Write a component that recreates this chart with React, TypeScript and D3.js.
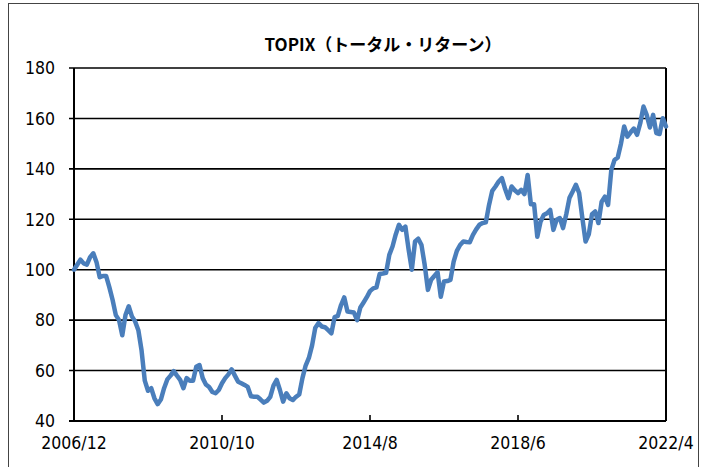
import React from 'react';
import * as d3 from 'd3';

// monthly TOPIX total return index, 2006/12 = 100
const values: number[] = [
  100, 102, 104, 102.5, 102, 105, 106.5, 103, 97, 97.5,
  97.5, 93, 88, 82, 80, 74, 82, 85.5, 81.5, 79.5,
  76, 68, 56, 52, 53, 49, 46.7, 48.5, 53, 56.5,
  58, 59.8, 58, 56.3, 53, 57, 56, 56, 61.5, 62.2,
  57, 54.5, 53.5, 51.5, 51, 52.3, 55, 57, 58.5, 60.5,
  58, 55.6, 55, 54.3, 53.5, 49.8, 49.6, 49.6, 48.5, 47.3,
  48, 49.6, 54, 56.3, 52.3, 47.7, 51, 49, 48.3, 49.6,
  50.5, 57, 62, 65, 70, 77, 78.8, 77.5, 77.2, 76,
  74.8, 81.2, 81.7, 86, 89, 83.4, 83.2, 83, 80, 85,
  87, 89.1, 91.5, 92.6, 93, 98.3, 98.5, 98.8, 105.9, 109.2,
  114, 117.8, 115.8, 117.1, 108, 100, 111.2, 112.3, 109.8, 101.9,
  92, 96, 97.5, 99, 89.3, 95.3, 95.5, 96, 103.2, 107.5,
  109.8, 111.2, 111, 110.9, 113.8, 116, 117.8, 118.5, 118.8, 125.7,
  131.3, 133, 135, 136.3, 132, 128.4, 133, 131.5, 130.4, 131.7,
  130, 137.6, 126, 126, 113.1, 119, 121.7, 122.4, 123.7, 115.8,
  119.8, 120.5, 116.5, 122, 128.5, 131, 133.7, 130.4, 120.5, 111.2,
  114, 122, 123.1, 118.5, 127, 129, 125.7, 139.6, 143.5, 144.5,
  150, 156.8, 152.8, 154.5, 156, 153.5, 158.1, 164.7, 161.4, 156.4,
  161.4, 154.2, 153.8, 160.1, 156.8,
];

const months: string[] = values.map((_, i) => {
  const m = 11 + i;
  return `${2006 + Math.floor(m / 12)}/${(m % 12) + 1}`;
});

const xTickLabels = ['2006/12', '2010/10', '2014/8', '2018/6', '2022/4'];
const yTicks = [40, 60, 80, 100, 120, 140, 160, 180];

const title = 'TOPIX（トータル・リターン）';

const W = 710;
const H = 467;
const margin = { top: 68, right: 44, bottom: 46, left: 74 };

export default function App() {
  const x = d3
    .scalePoint<string>()
    .domain(months)
    .range([margin.left, W - margin.right]);
  const y = d3
    .scaleLinear()
    .domain([40, 180])
    .range([H - margin.bottom, margin.top]);

  const line = d3
    .line<number>()
    .x((_, i) => x(months[i]) as number)
    .y((d) => y(d));

  const font = "'DejaVu Sans Condensed', 'DejaVu Sans', sans-serif";
  const x0 = margin.left;
  const x1 = W - margin.right;

  return (
    <svg
      width={W}
      height={H}
      style={{ position: 'absolute', left: 0, top: 0, background: '#fff' }}
    >
      <rect x={8.5} y={3.5} width={690} height={480} fill="#fff" stroke="#444" strokeWidth={1} />

      <text
        x={383}
        y={51}
        textAnchor="middle"
        fontFamily="'Noto Sans CJK JP', sans-serif"
        fontWeight="bold"
        fontSize={17}
        fill="#000"
      >
        {title}
      </text>

      {/* grid + y ticks */}
      {yTicks.map((t) => (
        <g key={t}>
          <line x1={x0 - 5} x2={x1} y1={y(t)} y2={y(t)} stroke="#000" strokeWidth={t === 40 ? 2 : 1.6} />
          <text
            x={55}
            y={y(t)}
            dy="0.36em"
            textAnchor="end"
            fontFamily={font}
            fontSize={17.5}
            fill="#000"
          >
            {t}
          </text>
        </g>
      ))}

      {/* plot border */}
      <line x1={x0} x2={x0} y1={y(180)} y2={y(40)} stroke="#000" strokeWidth={2} />
      <line x1={x1} x2={x1} y1={y(180)} y2={y(40)} stroke="#000" strokeWidth={2} />

      {/* x ticks */}
      {xTickLabels.map((l) => {
        const px = x(l) as number;
        return (
          <g key={l}>
            <line x1={px} x2={px} y1={y(40)} y2={y(40) - 6} stroke="#000" strokeWidth={1.6} />
            <text
              x={px}
              y={449}
              textAnchor="middle"
              fontFamily={font}
              fontSize={17.5}
              fill="#000"
            >
              {l}
            </text>
          </g>
        );
      })}

      <path
        d={line(values) ?? ''}
        fill="none"
        stroke="#4a7ebb"
        strokeWidth={4.5}
        strokeLinejoin="round"
        strokeLinecap="round"
      />
    </svg>
  );
}
